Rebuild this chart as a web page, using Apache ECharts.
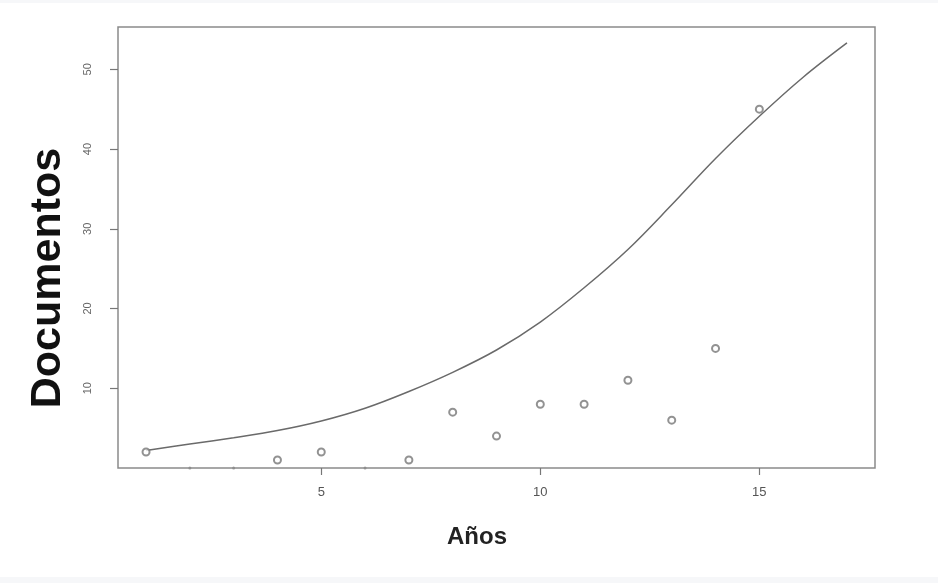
<!DOCTYPE html>
<html>
<head>
<meta charset="utf-8">
<script src="https://cdn.jsdelivr.net/npm/echarts@6/dist/echarts.min.js"></script>
<style>html,body{margin:0;padding:0;background:#fff;}#c{width:938px;height:583px;}</style>
</head>
<body>
<div id="c"></div>
<script>
// Observed data (Años vs Documentos)
var years = [1, 4, 5, 7, 8, 9, 10, 11, 12, 13, 14, 15];
var docs  = [2, 1, 2, 1, 7, 4, 8, 8, 11, 6, 15, 45];
// Years with zero documents (drawn on the bottom frame)
var zeroYears = [2, 3, 6];
var zeroDocs  = [0, 0, 0];
// Fitted curve
var curveYears = [1, 2, 3, 4, 5, 6, 7, 8, 9, 10, 11, 12, 13, 14, 15, 16, 17];
var curveDocs  = [2.2, 3.0, 3.8, 4.7, 5.9, 7.5, 9.6, 12.0, 14.8, 18.3, 22.6, 27.4, 33.0, 38.8, 44.1, 49.0, 53.3];
// Tick labels
var xTicks = [5, 10, 15];
var yTicks = [10, 20, 30, 40, 50];

function pairs(a, b) { return a.map(function (v, i) { return [v, b[i]]; }); }

var chart = echarts.init(document.getElementById('c'), null, {renderer: 'canvas'});
chart.setOption({
  backgroundColor: '#ffffff',
  animation: false,
  grid: {left: 118, right: 63, top: 27, bottom: 115, show: true, borderColor: '#8a8a8a', borderWidth: 1.5, backgroundColor: 'transparent'},
  xAxis: {
    type: 'value', min: 0.36, max: 17.64,
    splitLine: {show: false},
    axisLine: {show: false},
    axisTick: {show: true, inside: false, length: 7, lineStyle: {color: '#777', width: 1.2}, customValues: xTicks},
    axisLabel: {customValues: xTicks, margin: 18, color: '#555', fontSize: 13, fontFamily: 'Liberation Sans, Arial, sans-serif'}
  },
  yAxis: {
    type: 'value', min: 0, max: 55.3,
    splitLine: {show: false},
    axisLine: {show: false},
    axisTick: {show: true, inside: false, length: 8, lineStyle: {color: '#777', width: 1.2}, customValues: yTicks},
    axisLabel: {customValues: yTicks, rotate: 90, margin: 30, color: '#666', fontSize: 11, fontFamily: 'Liberation Sans, Arial, sans-serif', align: 'center', verticalAlign: 'middle'}
  },
  series: [
    {
      type: 'line', data: pairs(curveYears, curveDocs), smooth: 0.35, showSymbol: false,
      lineStyle: {color: '#6a6a6a', width: 1.5}, silent: true, z: 2
    },
    {
      type: 'scatter', data: pairs(years, docs), symbol: 'emptyCircle', symbolSize: 7,
      itemStyle: {color: '#777', borderColor: '#777', borderWidth: 1.4}, z: 3
    },
    {
      type: 'scatter', data: pairs(zeroYears, zeroDocs), symbol: 'circle', symbolSize: 3,
      itemStyle: {color: '#888'}, z: 1
    }
  ],
  graphic: [
    {type: 'rect', shape: {x: 0, y: 0, width: 938, height: 3}, style: {fill: '#f6f7f9'}, silent: true},
    {type: 'rect', shape: {x: 0, y: 577, width: 938, height: 6}, style: {fill: '#f6f7f9'}, silent: true},
    {type: 'text', x: 48, y: 278, rotation: Math.PI / 2,
      style: {text: 'Documentos', font: 'bold 43px "Liberation Sans", Arial, sans-serif', fill: '#111', align: 'center', verticalAlign: 'middle'}},
    {type: 'text', x: 477, y: 537,
      style: {text: 'Años', font: 'bold 24px "Liberation Sans", Arial, sans-serif', fill: '#222', align: 'center', verticalAlign: 'middle'}}
  ]
});
</script>
</body>
</html>
